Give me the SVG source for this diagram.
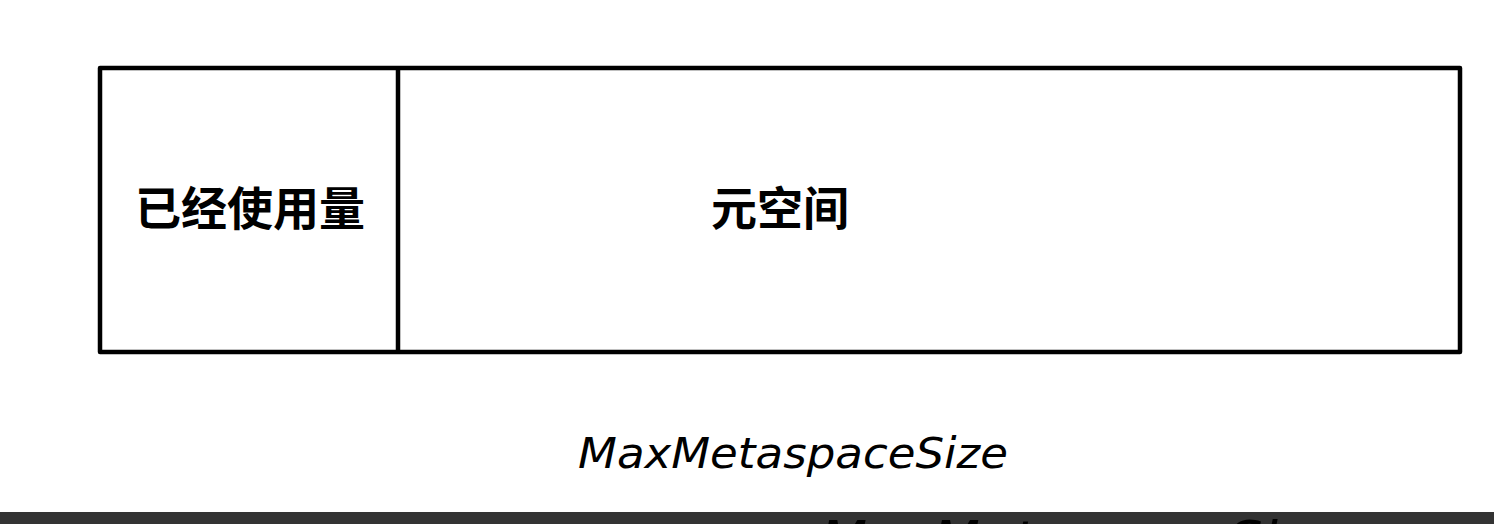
<svg xmlns="http://www.w3.org/2000/svg" width="1494" height="524" viewBox="0 0 1494 524">
<style>
.box{fill:none;stroke:#000;stroke-width:4.5;stroke-linejoin:round}
.cn{font-family:"Liberation Sans","Noto Sans CJK SC",sans-serif;font-weight:bold;font-size:46px;fill:#000}
.hand{font-family:"DejaVu Sans",sans-serif;font-style:italic;fill:#000}
</style>
<rect width="1494" height="524" fill="#fff"/>
<g id="metaspace">
<rect class="box" x="100" y="68" width="1360" height="284"/>
<text class="cn" x="780" y="225" text-anchor="middle">元空间</text>
</g>
<g id="used">
<line class="box" x1="398" y1="68" x2="398" y2="352"/>
<text class="cn" x="250" y="225" text-anchor="middle" textLength="230" lengthAdjust="spacingAndGlyphs">已经使用量</text>
</g>
<g id="label">
<text class="hand" x="578" y="468" font-size="42" textLength="430" lengthAdjust="spacingAndGlyphs">MaxMetaspaceSize</text>
</g>
<g id="band">
<rect x="0" y="512" width="1494" height="12" fill="#333"/>
<text class="hand" x="820" y="558" font-size="52" fill="#111" textLength="520" lengthAdjust="spacingAndGlyphs">MaxMetaspaceSize</text>
</g>
</svg>
